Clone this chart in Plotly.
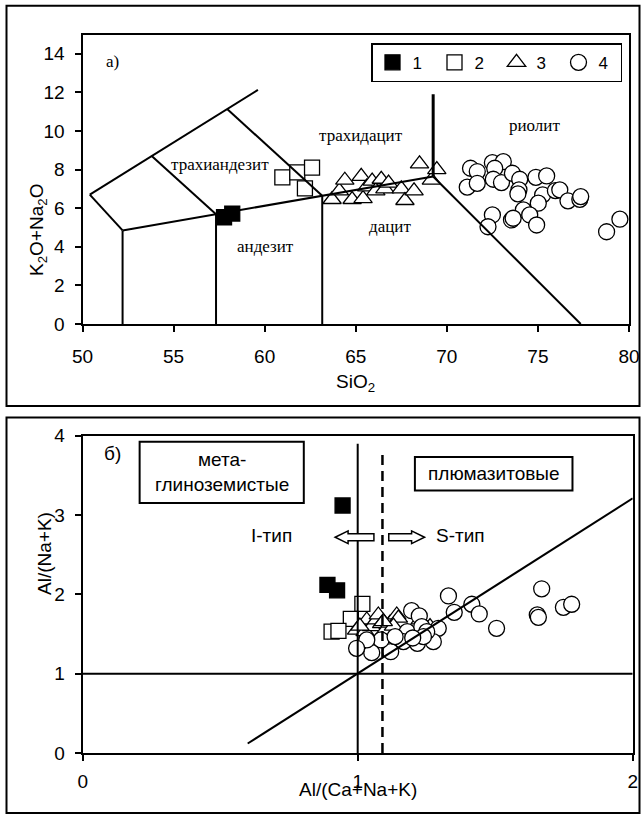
import plotly.graph_objects as go

W, H = 642, 816

# ---------------- Panel a) TAS diagram data ----------------
g1_sio2 = [57.77, 58.22]
g1_alk = [5.53, 5.72]
g2_sio2 = [60.97, 61.79, 62.60, 62.21]
g2_alk = [7.60, 7.86, 8.10, 7.03]
g3_sio2 = [63.7, 64.1, 64.4, 64.8, 65.3, 65.4, 65.6, 65.9, 66.1, 66.4, 66.6, 66.8,
           67.5, 67.7, 68.2, 68.5, 69.15, 69.45]
g3_alk = [6.45, 6.9, 7.45, 6.45, 7.65, 6.5, 7.1, 7.4, 6.9, 7.5, 7.0, 7.3,
          7.0, 6.4, 6.9, 8.3, 7.45, 8.0]
g4_sio2 = [71.30, 71.67, 71.12, 71.67, 72.50, 73.10, 72.63, 72.55, 73.00, 73.60,
           74.00, 73.96, 73.90, 74.89, 75.48, 75.26, 75.02, 75.96, 76.20, 76.65,
           77.30, 77.35, 74.20, 74.55, 74.93, 73.55, 73.64, 72.50, 72.26, 78.77, 79.50]
g4_alk = [8.07, 7.90, 7.09, 7.29, 8.36, 8.41, 8.07, 7.50, 7.33, 7.81,
          7.50, 6.95, 6.74, 7.60, 7.67, 6.69, 6.26, 6.91, 6.95, 6.38,
          6.46, 6.60, 5.91, 5.65, 5.13, 5.39, 5.48, 5.65, 5.04, 4.78, 5.43]

# TAS field boundaries (segments)
tas_x = [50.4, 52.2, None, 52.2, 69.25, None, 52.2, 52.2, None, 57.33, 57.33, None,
         63.16, 63.16, None, 69.25, 77.35, None, 50.4, 53.8, 57.94, 59.63, None,
         53.8, 57.33, None, 57.94, 63.16]
tas_y = [6.7, 4.85, None, 4.85, 7.64, None, 0, 4.85, None, 0, 5.69, None,
         0, 6.65, None, 7.64, 0, None, 6.7, 8.71, 11.14, 12.13, None,
         8.71, 5.69, None, 11.14, 6.65]
tas_bold_x = [69.25, 69.25]
tas_bold_y = [7.64, 11.9]

tas_labels = ["трахиандезит", "андезит", "трахидацит", "дацит", "риолит"]
tas_lab_x = [57.55, 60.07, 65.3, 66.9, 74.8]
tas_lab_y = [8.24, 4.0, 9.75, 5.03, 10.3]

a_ticks = [50, 55, 60, 65, 70, 75, 80]
a_yticks = [0, 2, 4, 6, 8, 10, 12, 14]

# ---------------- Panel б) A/CNK vs A/NK data ----------------
b1_acnk = [0.89, 0.925, 0.945]
b1_ank = [2.12, 2.05, 3.12]
b2_acnk = [1.017, 0.975, 0.905, 0.93]
b2_ank = [1.88, 1.69, 1.53, 1.54]
b3_acnk = [0.996, 1.027, 1.033, 1.051, 1.069, 1.075, 1.087, 1.10, 1.117, 1.142,
           1.148, 1.13, 1.227, 1.263, 1.093, 1.008]
b3_ank = [1.55, 1.53, 1.677, 1.593, 1.677, 1.74, 1.63, 1.55, 1.636, 1.74,
          1.70, 1.60, 1.677, 1.593, 1.656, 1.60]
b4_acnk = [1.33, 1.415, 1.351, 1.442, 1.505, 1.669, 1.653, 1.657, 1.748, 1.778,
           1.293, 1.275, 1.217, 1.196, 1.224, 1.18, 1.166, 1.12, 1.085, 1.051,
           1.033, 0.996, 1.136, 1.233, 1.251, 1.239, 1.2]
b4_ank = [1.98, 1.875, 1.774, 1.753, 1.572, 2.07, 1.74, 1.71, 1.837, 1.875,
          1.572, 1.404, 1.383, 1.794, 1.728, 1.53, 1.404, 1.277, 1.425, 1.265,
          1.425, 1.32, 1.467, 1.593, 1.53, 1.467, 1.45]

b_line_x = [1.0, 1.0, None, 0.0, 2.0, None, 0.6, 2.0]
b_line_y = [0.0, 3.9, None, 1.0, 1.0, None, 0.12, 3.21]
b_dash_x = [1.09, 1.09]
b_dash_y = [0.0, 3.83]

b_ticks = [0, 1, 2]
b_yticks = [0, 1, 2, 3, 4]

SANS = "Liberation Sans, Arial, sans-serif"
SERIF = "Liberation Serif, Times New Roman, serif"
FS = 19


def px(p):
    return p / W


def py(p):
    return 1 - p / H


fig = go.Figure()

mk_line = dict(color="black", width=1.3)
fig.add_trace(go.Scatter(x=g1_sio2, y=g1_alk, mode="markers", name="1",
                         marker=dict(symbol="square", size=15, color="black", line=mk_line),
                         xaxis="x", yaxis="y"))
fig.add_trace(go.Scatter(x=g2_sio2, y=g2_alk, mode="markers", name="2",
                         marker=dict(symbol="square", size=15, color="white", line=mk_line),
                         xaxis="x", yaxis="y"))
fig.add_trace(go.Scatter(x=g3_sio2, y=g3_alk, mode="markers", name="3",
                         marker=dict(symbol="triangle-up", size=16, color="white", line=mk_line),
                         xaxis="x", yaxis="y"))
fig.add_trace(go.Scatter(x=g4_sio2, y=g4_alk, mode="markers", name="4",
                         marker=dict(symbol="circle", size=16, color="white", line=mk_line),
                         xaxis="x", yaxis="y"))
fig.add_trace(go.Scatter(x=tas_x, y=tas_y, mode="lines", showlegend=False,
                         line=dict(color="black", width=2), xaxis="x", yaxis="y",
                         hoverinfo="skip"))
fig.add_trace(go.Scatter(x=tas_bold_x, y=tas_bold_y, mode="lines", showlegend=False,
                         line=dict(color="black", width=3), xaxis="x", yaxis="y",
                         hoverinfo="skip"))

# panel b
fig.add_trace(go.Scatter(x=b1_acnk, y=b1_ank, mode="markers", showlegend=False,
                         marker=dict(symbol="square", size=15, color="black", line=mk_line),
                         xaxis="x2", yaxis="y2"))
fig.add_trace(go.Scatter(x=b2_acnk, y=b2_ank, mode="markers", showlegend=False,
                         marker=dict(symbol="square", size=15, color="white", line=mk_line),
                         xaxis="x2", yaxis="y2"))
fig.add_trace(go.Scatter(x=b3_acnk, y=b3_ank, mode="markers", showlegend=False,
                         marker=dict(symbol="triangle-up", size=16, color="white", line=mk_line),
                         xaxis="x2", yaxis="y2"))
fig.add_trace(go.Scatter(x=b4_acnk, y=b4_ank, mode="markers", showlegend=False,
                         marker=dict(symbol="circle", size=16, color="white", line=mk_line),
                         xaxis="x2", yaxis="y2"))
fig.add_trace(go.Scatter(x=b_line_x, y=b_line_y, mode="lines", showlegend=False,
                         line=dict(color="black", width=2), xaxis="x2", yaxis="y2",
                         hoverinfo="skip"))
fig.add_trace(go.Scatter(x=b_dash_x, y=b_dash_y, mode="lines", showlegend=False,
                         line=dict(color="black", width=2.5, dash="10px,6px"),
                         xaxis="x2", yaxis="y2", hoverinfo="skip"))

ax_common = dict(showline=True, linewidth=2, linecolor="black", mirror=True,
                 ticks="outside", ticklen=6, tickwidth=2, tickcolor="black",
                 showgrid=False, zeroline=False,
                 tickfont=dict(family=SANS, size=FS, color="black"))

fig.update_layout(
    width=W, height=H,
    margin=dict(l=0, r=0, t=0, b=0, autoexpand=False),
    paper_bgcolor="white", plot_bgcolor="white",
    xaxis=dict(domain=[px(82.5), px(629)], range=[50, 80], tickvals=a_ticks,
               anchor="y", ticklabelstandoff=8, **ax_common),
    yaxis=dict(domain=[py(324), py(34.5)], range=[0, 15], tickvals=a_yticks,
               anchor="x", ticklabelstandoff=6, **ax_common),
    xaxis2=dict(domain=[px(82.7), px(632.7)], range=[0, 2], tickvals=b_ticks,
                anchor="y2", ticklabelstandoff=4, **ax_common),
    yaxis2=dict(domain=[py(753), py(435.7)], range=[0, 4], tickvals=b_yticks,
                anchor="x2", ticklabelstandoff=6, **ax_common),
    showlegend=True,
    legend=dict(orientation="h", x=px(371), y=py(43.3), xanchor="left", yanchor="top",
                bordercolor="black", borderwidth=1.5, bgcolor="white",
                font=dict(family=SANS, size=17, color="black"),
                itemsizing="trace", entrywidth=17, entrywidthmode="pixels",
                tracegroupgap=0),
    hovermode=False,
)

shapes = [
    # outer frames
    dict(type="rect", xref="paper", yref="paper", x0=px(6.5), x1=px(639.5),
         y0=py(406), y1=py(5.7), line=dict(color="black", width=2)),
    dict(type="rect", xref="paper", yref="paper", x0=px(6.5), x1=px(639.5),
         y0=py(813), y1=py(417.5), line=dict(color="black", width=2)),
    # boxes panel b
    dict(type="rect", xref="x2", yref="y2", x0=0.207, x1=0.804, y0=3.153, y1=3.924,
         line=dict(color="black", width=2), fillcolor="white"),
    dict(type="rect", xref="x2", yref="y2", x0=1.208, x1=1.781, y0=3.309, y1=3.733,
         line=dict(color="black", width=2), fillcolor="white"),
    # hollow arrows
    dict(type="path", xref="x2", yref="y2",
         path="M 0.918 2.72 L 0.965 2.80 L 0.965 2.765 L 1.059 2.765 L 1.059 2.675 "
              "L 0.965 2.675 L 0.965 2.64 Z",
         line=dict(color="black", width=1.5), fillcolor="white"),
    dict(type="path", xref="x2", yref="y2",
         path="M 1.243 2.72 L 1.196 2.80 L 1.196 2.765 L 1.113 2.765 L 1.113 2.675 "
              "L 1.196 2.675 L 1.196 2.64 Z",
         line=dict(color="black", width=1.5), fillcolor="white"),
]
fig.update_layout(shapes=shapes)

ann = []
for t, xx, yy in zip(tas_labels, tas_lab_x, tas_lab_y):
    ann.append(dict(text=t, x=xx, y=yy, xref="x", yref="y", showarrow=False,
                    font=dict(family=SERIF, size=17, color="black")))
ann.append(dict(text="a)", x=51.62, y=13.58, xref="x", yref="y", showarrow=False,
                font=dict(family=SERIF, size=17, color="black")))
ann.append(dict(text="SiO<sub>2</sub>", x=px(355.7), y=py(383), xref="paper", yref="paper",
                showarrow=False, font=dict(family=SANS, size=FS, color="black")))
ann.append(dict(text="K<sub>2</sub>O+Na<sub>2</sub>O", x=px(24), y=py(182), xref="paper",
                yref="paper", showarrow=False, textangle=-90,
                font=dict(family=SANS, size=FS, color="black")))
ann.append(dict(text="Al/(Ca+Na+K)", x=px(358), y=py(802), xref="paper", yref="paper",
                showarrow=False, font=dict(family=SANS, size=FS, color="black")))
ann.append(dict(text="Al/(Na+K)", x=px(32), y=py(597), xref="paper", yref="paper",
                showarrow=False, textangle=-90,
                font=dict(family=SANS, size=FS, color="black")))
ann.append(dict(text="б)", x=0.109, y=3.775, xref="x2", yref="y2", showarrow=False,
                font=dict(family=SANS, size=FS, color="black")))
ann.append(dict(text="мета-<br>глиноземистые", x=0.5055, y=3.54, xref="x2", yref="y2",
                showarrow=False, font=dict(family=SANS, size=FS, color="black")))
ann.append(dict(text="плюмазитовые", x=1.4945, y=3.52, xref="x2", yref="y2",
                showarrow=False, font=dict(family=SANS, size=FS, color="black")))
ann.append(dict(text="I-тип", x=0.687, y=2.737, xref="x2", yref="y2", showarrow=False,
                font=dict(family=SANS, size=FS, color="black")))
ann.append(dict(text="S-тип", x=1.375, y=2.737, xref="x2", yref="y2", showarrow=False,
                font=dict(family=SANS, size=FS, color="black")))
fig.update_layout(annotations=ann)

fig.write_html("out.html")
